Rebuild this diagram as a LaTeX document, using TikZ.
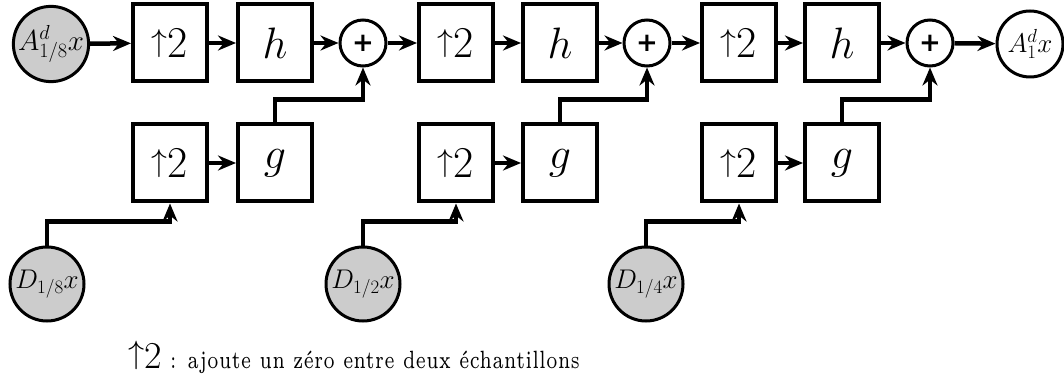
\RequirePackage{fix-cm}
\documentclass[tikz,border=0pt]{standalone}
\usepackage{fontspec}
\newfontfamily\plusfont{DejaVu Sans}
\usetikzlibrary{arrows.meta,calc}
\newcommand{\upt}{\raisebox{0.14em}{\scalebox{0.72}{$\uparrow$}}2}
\begin{document}
\begin{tikzpicture}[x=1pt,y=1pt,
 box/.style={draw,line width=4pt,minimum width=74pt,minimum height=77pt,inner sep=0pt,font=\fontsize{44}{48}\selectfont},
 sig/.style={draw,line width=3pt,circle,minimum size=74pt,inner sep=0pt,fill=black!20,font=\fontsize{27}{29}\selectfont},
 sum/.style={draw,line width=3pt,circle,minimum size=46pt,inner sep=0pt,font=\fontsize{26}{28}\plusfont\bfseries},
 arr/.style={line width=4.5pt,-{Stealth[length=18pt,width=15pt]}}]
\useasboundingbox (0,0) rectangle (1064,375);
% top row
\node[sig,font=\fontsize{29}{31}\selectfont] (A0) at (51,331) {$A^d_{1/8}x$};
\node[box] (u1) at (170,332) {\upt};
\node[box] (h1) at (275,332) {$h$};
\node[sum] (s1) at (363,332) {+};
\node[box] (u2) at (456,332) {\upt};
\node[box] (h2) at (560,332) {$h$};
\node[sum] (s2) at (647,332) {+};
\node[box] (u3) at (739,332) {\upt};
\node[box] (h3) at (842,332) {$h$};
\node[sum] (s3) at (930,332) {+};
\node[sig,fill=white,minimum size=66pt] (A1) at (1030,331) {$A^d_1x$};
% bottom row
\node[box] (v1) at (170,212) {\upt};
\node[box] (g1) at (275,212) {$g$};
\node[box] (v2) at (456,212) {\upt};
\node[box] (g2) at (560,212) {$g$};
\node[box] (v3) at (739,212) {\upt};
\node[box] (g3) at (842,212) {$g$};
\node[sig] (D1) at (47,91) {$D_{1/8}x$};
\node[sig] (D2) at (363,91) {$D_{1/2}x$};
\node[sig] (D3) at (646,91) {$D_{1/4}x$};
% connectors
\draw[arr] (A0) -- (u1);
\draw[arr] (u1) -- (h1);
\draw[arr] (h1) -- (s1);
\draw[arr] (s1) -- (u2);
\draw[arr] (u2) -- (h2);
\draw[arr] (h2) -- (s2);
\draw[arr] (s2) -- (u3);
\draw[arr] (u3) -- (h3);
\draw[arr] (h3) -- (s3);
\draw[arr] (s3) -- (A1);
\draw[arr] (v1) -- (g1);
\draw[arr] (v2) -- (g2);
\draw[arr] (v3) -- (g3);
\draw[arr] (g1.north) -- ++(0,23) -| (s1.south);
\draw[arr] (g2.north) -- ++(0,23) -| (s2.south);
\draw[arr] (g3.north) -- ++(0,23) -| (s3.south);
\draw[arr] (D1.north) -- ++(0,24) -| (v1.south);
\draw[arr] (D2.north) -- ++(0,24) -| (v2.south);
\draw[arr] (D3.north) -- ++(0,24) -| (v3.south);
% legend
\node[anchor=base west,inner sep=0pt] (leg) at (128,7) {\fontsize{38}{40}\selectfont\raisebox{0.12em}{\scalebox{0.85}{$\uparrow$}}2\hspace{8pt}\scalebox{3.42}[5.0]{\fontsize{5}{6}\selectfont : ajoute un zéro entre deux échantillons}};
\end{tikzpicture}
\end{document}
